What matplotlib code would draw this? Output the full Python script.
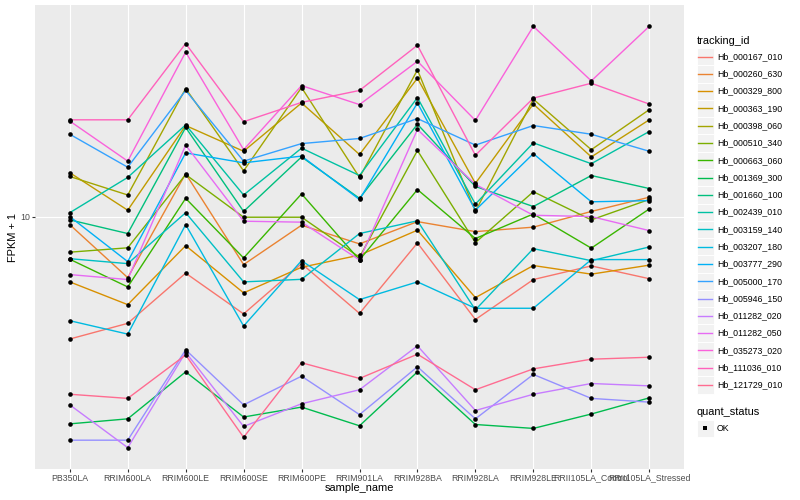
import numpy as np
import matplotlib
matplotlib.use('Agg')
import matplotlib.pyplot as plt
from matplotlib.patches import Rectangle
from matplotlib.ticker import NullLocator

plt.rcParams['font.family'] = ['Liberation Sans', 'DejaVu Sans']

samples = ['PB350LA', 'RRIM600LA', 'RRIM600LE', 'RRIM600SE', 'RRIM600PE', 'RRIM901LA',
           'RRIM928BA', 'RRIM928LA', 'RRIM928LE', 'RRII105LA_Control', 'RRII105LA_Stressed']

tracking_ids = ['Hb_000167_010', 'Hb_000260_630', 'Hb_000329_800', 'Hb_000363_190', 'Hb_000398_060',
                'Hb_000510_340', 'Hb_000663_060', 'Hb_001369_300', 'Hb_001660_100', 'Hb_002439_010',
                'Hb_003159_140', 'Hb_003207_180', 'Hb_003777_290', 'Hb_005000_170', 'Hb_005946_150',
                'Hb_011282_020', 'Hb_011282_050', 'Hb_035273_020', 'Hb_111036_010', 'Hb_121729_010']

colors = ['#F8766D', '#EA8331', '#D89000', '#C09B00', '#A3A500', '#7CAE00', '#39B600', '#00BB4E',
          '#00BF7D', '#00C1A3', '#00BFC4', '#00BAE0', '#00B0F6', '#35A2FF', '#9590FF', '#C77CFF',
          '#E76BF3', '#FA62DB', '#FF62BC', '#FF6C91']

# FPKM + 1 per sample, one list per tracking_id
hb_000167_010 = [3.91, 4.41, 6.48, 4.74, 6.97, 4.76, 8.17, 4.54, 6.17, 6.85, 6.21]
hb_000260_630 = [9.40, 6.26, 13.9, 6.92, 9.36, 8.11, 9.62, 8.91, 9.22, 10.4, 11.6]
hb_000329_800 = [6.06, 5.09, 8.00, 5.57, 6.78, 7.44, 9.01, 5.37, 6.87, 6.43, 6.89]
hb_000363_190 = [14.0, 10.5, 20.1, 16.5, 23.9, 16.1, 28.9, 12.9, 23.7, 15.8, 21.0]
hb_000398_060 = [13.6, 11.8, 26.7, 14.2, 26.9, 13.5, 30.8, 10.4, 24.6, 16.7, 22.7]
hb_000510_340 = [7.61, 7.87, 13.8, 9.95, 9.95, 7.32, 16.6, 8.19, 12.1, 9.75, 11.4]
hb_000663_060 = [7.21, 5.83, 11.5, 7.28, 11.9, 7.17, 12.3, 8.45, 10.2, 7.85, 10.6]
hb_001369_300 = [2.04, 2.12, 3.04, 2.15, 2.32, 2.01, 3.04, 2.03, 1.97, 2.20, 2.49]
hb_001660_100 = [9.75, 8.78, 19.8, 10.4, 15.8, 11.5, 20.3, 12.6, 10.8, 13.7, 12.4]
hb_002439_010 = [10.3, 13.5, 20.2, 11.8, 16.9, 13.7, 24.9, 11.0, 17.6, 15.0, 19.2]
hb_003159_140 = [7.24, 6.97, 10.3, 6.06, 6.18, 8.78, 9.68, 4.89, 7.82, 7.13, 7.92]
hb_003207_180 = [4.50, 4.06, 9.40, 4.32, 7.13, 5.29, 6.06, 4.95, 4.95, 7.19, 7.19]
hb_003777_290 = [10.0, 7.08, 16.3, 15.1, 15.9, 11.4, 23.9, 10.5, 16.2, 11.2, 11.3]
hb_005000_170 = [18.8, 14.6, 26.3, 15.3, 17.5, 18.2, 21.2, 17.3, 20.1, 18.8, 16.5]
hb_005946_150 = [1.80, 1.80, 3.60, 2.36, 2.94, 2.19, 3.16, 2.12, 2.98, 2.48, 2.41]
hb_011282_020 = [2.36, 1.70, 3.53, 2.00, 2.38, 2.65, 3.71, 2.26, 2.56, 2.78, 2.73]
hb_011282_050 = [6.41, 6.17, 17.3, 9.65, 9.58, 7.17, 19.5, 12.8, 10.1, 10.0, 8.98]
hb_035273_020 = [20.8, 15.3, 35.3, 16.7, 27.3, 23.6, 32.9, 20.9, 43.0, 28.3, 43.0]
hb_111036_010 = [21.0, 21.0, 37.7, 20.7, 24.0, 26.3, 37.2, 16.0, 24.8, 27.8, 23.7]
hb_121729_010 = [2.56, 2.48, 3.46, 1.84, 3.26, 2.89, 3.48, 2.65, 3.11, 3.35, 3.40]

series = [hb_000167_010, hb_000260_630, hb_000329_800, hb_000363_190, hb_000398_060,
          hb_000510_340, hb_000663_060, hb_001369_300, hb_001660_100, hb_002439_010,
          hb_003159_140, hb_003207_180, hb_003777_290, hb_005000_170, hb_005946_150,
          hb_011282_020, hb_011282_050, hb_035273_020, hb_111036_010, hb_121729_010]

quant_levels = ['OK']

W, H = 800, 500
fig = plt.figure(figsize=(W / 100, H / 100), dpi=100)
fig.patch.set_facecolor('white')
L, R, T, B = 35, 684, 5.3, 468.7
ax = fig.add_axes([L / W, 1 - B / H, (R - L) / W, (B - T) / H])
ax.set_facecolor('#EBEBEB')

x = np.arange(len(samples))
for col, vals in zip(colors, series):
    ax.plot(x, vals, color=col, lw=1.0, zorder=2)
for vals in series:
    ax.plot(x, vals, ls='none', marker='o', ms=3.3, mew=0, color='black', zorder=3)

ax.set_yscale('log')
allv = np.concatenate([np.asarray(s, float) for s in series])
lo, hi = np.log10(allv.min()), np.log10(allv.max())
pad = 0.05 * (hi - lo)
ax.set_ylim(10 ** (lo - pad), 10 ** (hi + pad))
ax.set_xlim(-0.6, len(samples) - 1 + 0.6)
ax.set_yticks([10])
ax.set_yticklabels(['10'])
ax.yaxis.set_minor_locator(NullLocator())
ax.set_xticks(x)
ax.set_xticklabels(samples)
ax.grid(True, which='major', color='white', lw=0.8)
ax.set_axisbelow(True)
for s in ax.spines.values():
    s.set_visible(False)
ax.tick_params(length=1.98, width=0.8, color='#333333', labelcolor='#4D4D4D',
               labelsize=6.34, pad=1.58)

fig.text(L + (R - L) / 2, H - 488.3, 'sample_name', transform=None, ha='center', va='center',
         fontsize=7.92, color='black')
fig.text(13, H - (T + B) / 2, 'FPKM + 1', transform=None, ha='center', va='center',
         rotation=90, fontsize=7.92, color='black')

# legend
lax = fig.add_axes([0, 0, 1, 1])
lax.set_xlim(0, W)
lax.set_ylim(H, 0)
lax.axis('off')
kx0, kw, kh = 696.7, 17.28, 17.28
lax.text(kx0, 40.7, 'tracking_id', fontsize=7.92, ha='left', va='center')
y0 = 48.0
for i, (tid, col) in enumerate(zip(tracking_ids, colors)):
    yt = y0 + i * kh
    lax.add_patch(Rectangle((kx0, yt), kw, kh, facecolor='#F2F2F2', edgecolor='white', lw=0.7))
    lax.plot([kx0 + 1.7, kx0 + kw - 1.7], [yt + kh / 2] * 2, color=col, lw=1.0)
    lax.text(kx0 + kw + 3.0, yt + kh / 2, tid, fontsize=6.34, ha='left', va='center')
qy = 411.7
lax.text(kx0, qy, 'quant_status', fontsize=7.92, ha='left', va='center')
for j, q in enumerate(quant_levels):
    yt = qy + 8.0 + j * kh
    lax.add_patch(Rectangle((kx0, yt), kw, kh, facecolor='#F2F2F2', edgecolor='white', lw=0.7))
    lax.plot([kx0 + kw / 2], [yt + kh / 2], ls='none', marker='s', ms=2.8, mew=0, color='black')
    lax.text(kx0 + kw + 3.0, yt + kh / 2, q, fontsize=6.34, ha='left', va='center')

fig.savefig('out.png', dpi=100)
